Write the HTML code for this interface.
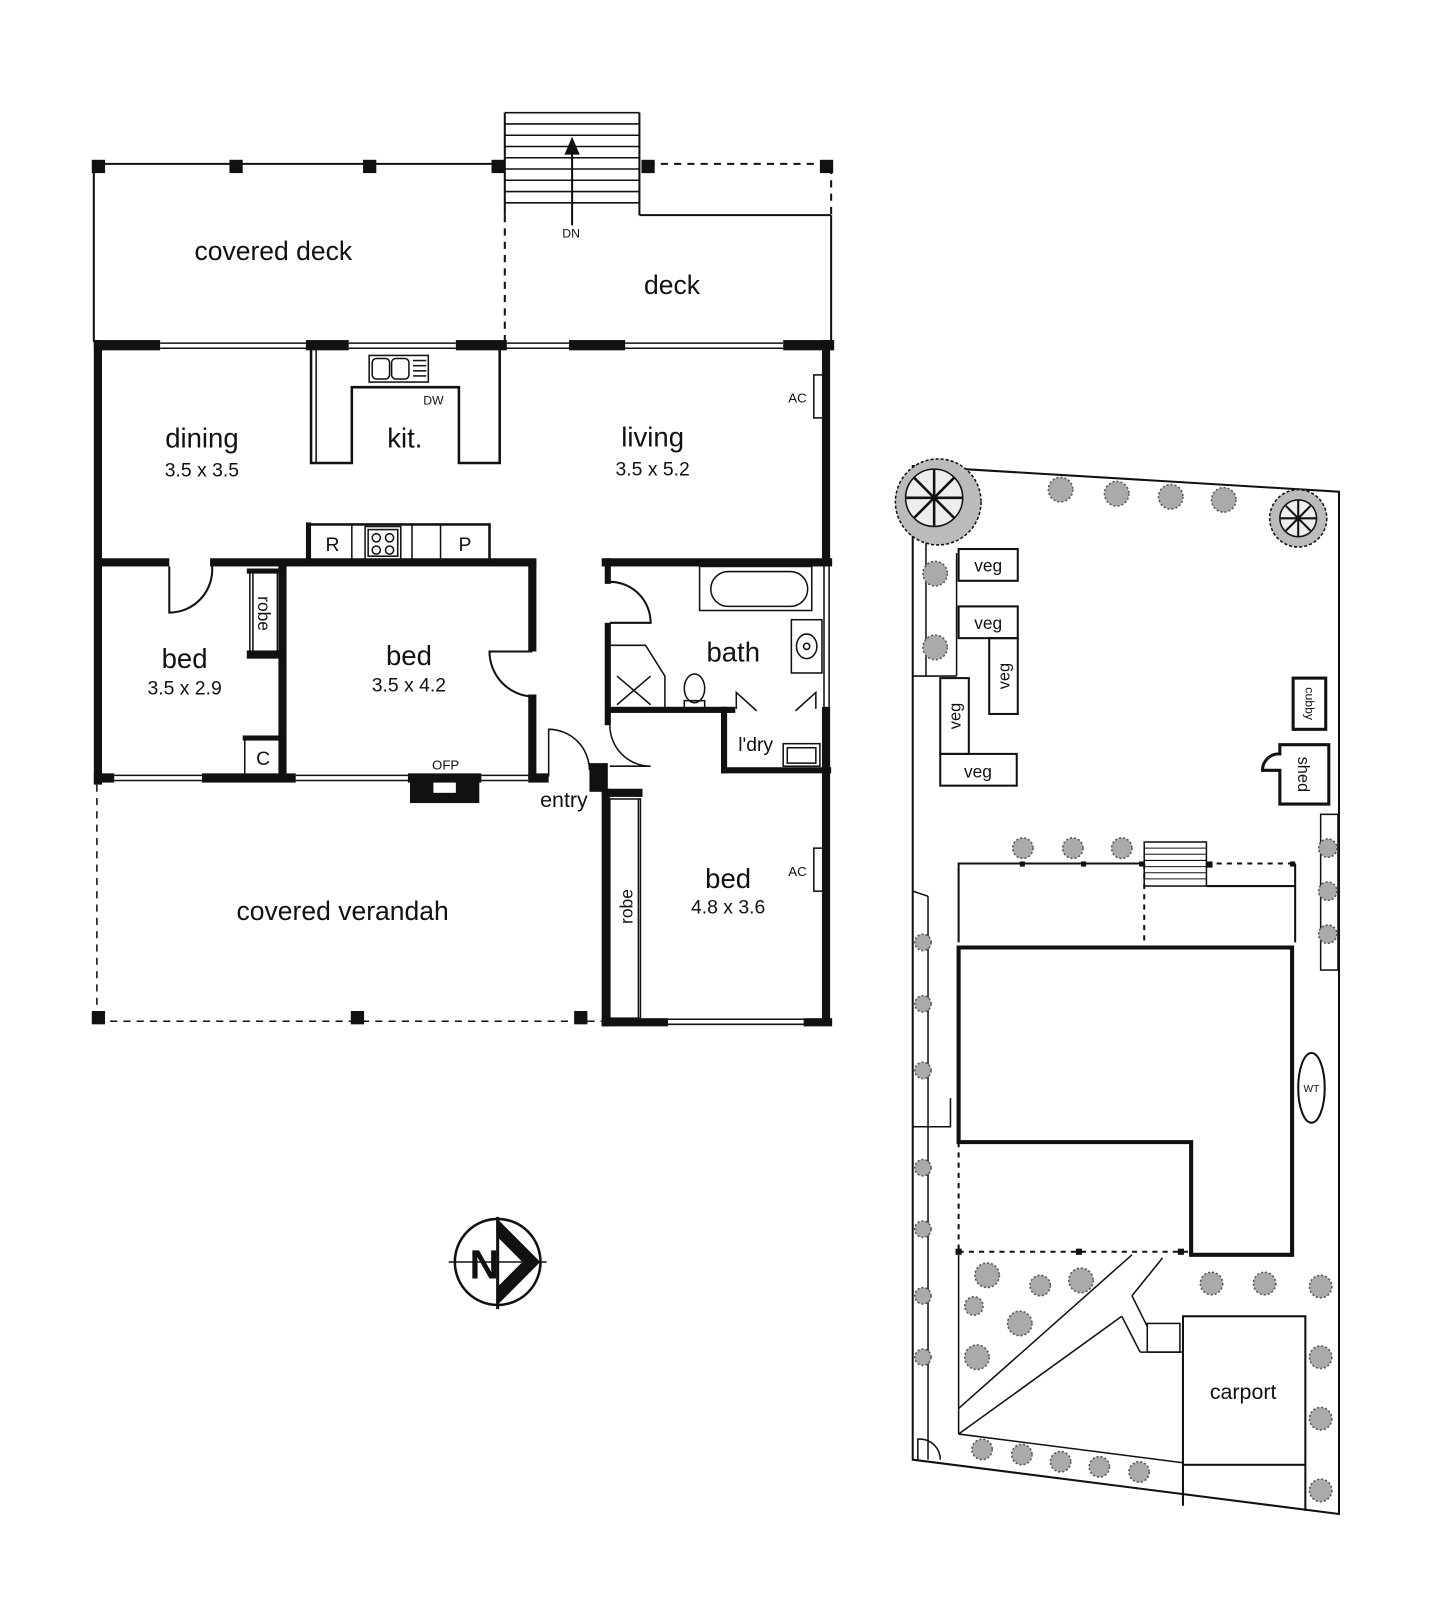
<!DOCTYPE html>
<html><head><meta charset="utf-8"><style>
html,body{margin:0;padding:0;background:#fff}
svg{display:block}
text{font-family:"Liberation Sans",Arial,sans-serif;fill:#111}
</style></head><body>
<svg width="1442" height="1600" viewBox="0 0 1414 1562" preserveAspectRatio="none" xmlns="http://www.w3.org/2000/svg">
<g stroke="#111" fill="none" stroke-width="2">
<!-- top decks -->
<line x1="92" y1="160" x2="495" y2="160"/>
<line x1="92" y1="160" x2="92" y2="334"/>
<line x1="815" y1="210" x2="815" y2="334"/>
<line x1="627" y1="210" x2="815" y2="210"/>
<line x1="635" y1="160" x2="815" y2="160" stroke-dasharray="7,6"/>
<line x1="815" y1="163" x2="815" y2="210" stroke-dasharray="7,6"/>
<line x1="495" y1="210" x2="495" y2="334" stroke-dasharray="7,6"/>
<!-- stairs -->
<line x1="495" y1="110" x2="495" y2="210"/><line x1="627" y1="110" x2="627" y2="210"/>
<g stroke-width="1.5">
<line x1="495" y1="110" x2="627" y2="110"/><line x1="495" y1="121" x2="627" y2="121"/><line x1="495" y1="132" x2="627" y2="132"/><line x1="495" y1="143" x2="627" y2="143"/><line x1="495" y1="154" x2="627" y2="154"/><line x1="495" y1="165" x2="627" y2="165"/><line x1="495" y1="176" x2="627" y2="176"/><line x1="495" y1="187" x2="627" y2="187"/><line x1="495" y1="198" x2="627" y2="198"/>
</g>
<line x1="561" y1="220" x2="561" y2="140"/>
<path d="M555 150 L561 136 L567 150 Z" fill="#111"/>
</g>
<g fill="#111">
<rect x="90" y="156" width="13" height="13"/><rect x="225" y="156" width="13" height="13"/><rect x="356" y="156" width="13" height="13"/><rect x="482" y="156" width="13" height="13"/><rect x="629" y="156" width="13" height="13"/><rect x="804" y="156" width="13" height="13"/>
<rect x="90" y="987" width="13" height="13"/><rect x="344" y="987" width="13" height="13"/><rect x="563" y="987" width="13" height="13"/>
</g>
<!-- house walls -->
<g fill="#111">
<rect x="92" y="332" width="65" height="10"/><rect x="300" y="332" width="42" height="10"/><rect x="447" y="332" width="50" height="10"/><rect x="558" y="332" width="55" height="10"/><rect x="768" y="332" width="50" height="10"/>
<rect x="92" y="332" width="8" height="434"/>
<rect x="806" y="332" width="8" height="220"/>
<rect x="96" y="545" width="70" height="8"/><rect x="206" y="545" width="320" height="8"/>
<rect x="273" y="548" width="8" height="212"/>
<rect x="518" y="548" width="8" height="88"/><rect x="518" y="678" width="8" height="82"/>
<rect x="92" y="755" width="20" height="9"/><rect x="198" y="755" width="92" height="9"/><rect x="400" y="755" width="72" height="9"/><rect x="518" y="755" width="20" height="9"/>
<rect x="402" y="760" width="68" height="24"/>
<rect x="590" y="545" width="226" height="8"/>
<rect x="593" y="545" width="6" height="25"/><rect x="593" y="608" width="6" height="100"/>
<rect x="596" y="690" width="125" height="6"/>
<rect x="707" y="690" width="6" height="65"/><rect x="707" y="749" width="108" height="6"/>
<rect x="806" y="690" width="8" height="310"/>
<rect x="590" y="770" width="8" height="232"/><rect x="590" y="770" width="40" height="8"/>
<rect x="578" y="745" width="18" height="28"/>
<rect x="590" y="994" width="65" height="8"/><rect x="788" y="994" width="28" height="8"/>
<rect x="242" y="555" width="35" height="5"/><rect x="242" y="635" width="35" height="8"/><rect x="238" y="718" width="40" height="5"/>
<rect x="300" y="510" width="5" height="40"/>
</g>
<rect x="425" y="764" width="22" height="10" fill="#fff"/>
<g stroke="#111" fill="none" stroke-width="1.5">
<!-- windows -->
<line x1="157" y1="335" x2="300" y2="335"/><line x1="157" y1="340" x2="300" y2="340"/>
<line x1="342" y1="335" x2="447" y2="335"/><line x1="342" y1="340" x2="447" y2="340"/>
<line x1="497" y1="335" x2="558" y2="335"/><line x1="497" y1="340" x2="558" y2="340"/>
<line x1="613" y1="335" x2="768" y2="335"/><line x1="613" y1="340" x2="768" y2="340"/>
<line x1="112" y1="757" x2="198" y2="757"/><line x1="112" y1="762" x2="198" y2="762"/>
<line x1="290" y1="757" x2="400" y2="757"/><line x1="290" y1="762" x2="400" y2="762"/>
<line x1="472" y1="757" x2="518" y2="757"/><line x1="472" y1="762" x2="518" y2="762"/>
<line x1="655" y1="995" x2="788" y2="995"/><line x1="655" y1="1000" x2="788" y2="1000"/>
<line x1="808" y1="552" x2="808" y2="690"/><line x1="813" y1="552" x2="813" y2="690"/>
<!-- kitchen -->
<polyline points="305,341 305,452 345,452 345,378 450,378 450,452 490,452 490,341" stroke-width="2.5"/>
<line x1="310" y1="341" x2="310" y2="452"/>
<rect x="362" y="347" width="58" height="26"/>
<rect x="365" y="350" width="17" height="20" rx="4"/><rect x="384" y="350" width="17" height="20" rx="4"/>
<line x1="405" y1="352" x2="418" y2="352"/><line x1="405" y1="357" x2="418" y2="357"/><line x1="405" y1="362" x2="418" y2="362"/><line x1="405" y1="367" x2="418" y2="367"/>
<rect x="303" y="512" width="177" height="36" stroke-width="2.5"/>
<line x1="345" y1="512" x2="345" y2="548"/><line x1="404" y1="512" x2="404" y2="548"/><line x1="432" y1="512" x2="432" y2="548"/>
<rect x="358" y="514" width="35" height="32"/><rect x="361" y="517" width="29" height="26"/>
<circle cx="369" cy="525" r="4"/><circle cx="382" cy="525" r="4"/><circle cx="369" cy="537" r="4"/><circle cx="382" cy="537" r="4"/>
<!-- doors -->
<path d="M166 553 L166 598 A42 42 0 0 0 208 553" stroke-width="2"/>
<path d="M522 636 L480 636 A44 44 0 0 0 522 680" stroke-width="2"/>
<path d="M598 568 A40 40 0 0 1 638 608 L598 608" stroke-width="2"/>
<path d="M598 708 A40 40 0 0 0 638 748 L598 748"/>
<path d="M538 758 L538 712 A40 40 0 0 1 578 752"/>
<rect x="245" y="558" width="27" height="80"/>
<line x1="248" y1="558" x2="248" y2="638"/>
<rect x="240" y="722" width="35" height="34"/>
<!-- bath -->
<rect x="686" y="553" width="110" height="43"/>
<rect x="697" y="558" width="95" height="34" rx="17"/>
<rect x="776" y="605" width="30" height="52"/>
<ellipse cx="791" cy="631" rx="10" ry="12"/><circle cx="791" cy="631" r="3"/>
<polyline points="597,630 633,630 652,660 652,695"/>
<line x1="605" y1="660" x2="638" y2="688"/><line x1="638" y1="660" x2="605" y2="688"/>
<ellipse cx="681" cy="672" rx="10" ry="14"/><rect x="671" y="684" width="20" height="7"/>
<path d="M722 692 L722 676 L742 694"/>
<path d="M800 692 L800 676 L780 694"/>
<rect x="768" y="726" width="36" height="22"/><rect x="772" y="730" width="28" height="15"/>
<!-- robe bed3 -->
<rect x="598" y="780" width="30" height="214"/>
<line x1="626" y1="780" x2="626" y2="994"/>
<rect x="798" y="828" width="10" height="42"/>
<rect x="798" y="366" width="10" height="42"/>
<!-- verandah -->
<line x1="95" y1="766" x2="95" y2="994" stroke-dasharray="7,6"/>
<line x1="95" y1="997" x2="590" y2="997" stroke-dasharray="7,6"/>
</g>
<!-- labels -->
<g text-anchor="middle">
<text x="268" y="254" font-size="26">covered deck</text>
<text x="659" y="287" font-size="26">deck</text>
<text x="560" y="232" font-size="12">DN</text>
<text x="198" y="437" font-size="27">dining</text><text x="198" y="465" font-size="19">3.5 x 3.5</text>
<text x="397" y="437" font-size="27">kit.</text>
<text x="425" y="395" font-size="12">DW</text>
<text x="640" y="436" font-size="27">living</text><text x="640" y="464" font-size="19">3.5 x 5.2</text>
<text x="782" y="393" font-size="13">AC</text>
<text x="326" y="538" font-size="19">R</text><text x="456" y="538" font-size="19">P</text>
<text x="181" y="652" font-size="27">bed</text><text x="181" y="678" font-size="19">3.5 x 2.9</text>
<text x="401" y="649" font-size="27">bed</text><text x="401" y="675" font-size="19">3.5 x 4.2</text>
<text x="258" y="747" font-size="19">C</text>
<text x="437" y="751" font-size="13">OFP</text>
<text x="719" y="646" font-size="27">bath</text>
<text x="741" y="733" font-size="19">l'dry</text>
<text x="553" y="788" font-size="21">entry</text>
<text x="714" y="867" font-size="27">bed</text><text x="714" y="892" font-size="19">4.8 x 3.6</text>
<text x="782" y="855" font-size="13">AC</text>
<text x="336" y="898" font-size="26">covered verandah</text>
<text x="1219" y="1366" font-size="21">carport</text>
</g>
<text x="253" y="599" font-size="17" transform="rotate(90 253 599)" text-anchor="middle">robe</text>
<text x="620" y="885" font-size="17" transform="rotate(-90 620 885)" text-anchor="middle">robe</text>
<!-- compass -->
<g stroke="#111" fill="none" stroke-width="2.5">
<circle cx="488" cy="1232" r="42"/>
<line x1="440" y1="1232" x2="536" y2="1232" stroke-width="1.5"/>
<line x1="488" y1="1188" x2="488" y2="1278" stroke-width="3"/>
<path d="M488 1192 L528 1232 L488 1272 L488 1258 L514 1232 L488 1206 Z" fill="#111"/>
</g>
<text x="475" y="1248" font-size="40" font-weight="bold" text-anchor="middle">N</text>
<!-- site plan -->
<g stroke="#111" fill="none" stroke-width="2">
<polygon points="895,455 1313,480 1313,1478 895,1425"/>
<line x1="908" y1="520" x2="908" y2="660" stroke-width="1.5"/>
<line x1="895" y1="660" x2="938" y2="660" stroke-width="1.5"/>
<line x1="938" y1="540" x2="938" y2="660" stroke-width="1.5"/>
<rect x="940" y="536" width="58" height="31"/>
<rect x="940" y="592" width="58" height="31"/>
<rect x="970" y="623" width="28" height="74"/>
<rect x="922" y="662" width="28" height="74"/>
<rect x="922" y="736" width="75" height="31"/>
<rect x="1268" y="662" width="32" height="50" stroke-width="3"/>
<path d="M1255 727 L1303 727 L1303 785 L1255 785 L1255 752 L1238 752 A16 16 0 0 1 1255 736 Z" stroke-width="3"/>
<rect x="1295" y="795" width="17" height="152" stroke-width="1.5"/>
<polyline points="940,920 940,843 1122,843"/>
<line x1="1183" y1="843" x2="1270" y2="843" stroke-dasharray="5,5"/>
<line x1="1270" y1="843" x2="1270" y2="920"/>
<line x1="1183" y1="865" x2="1270" y2="865"/>
<line x1="1122" y1="843" x2="1122" y2="920" stroke-dasharray="5,5"/>
<rect x="1122" y="822" width="61" height="43" stroke-width="1.5"/>
<g stroke-width="1"><line x1="1122" y1="828" x2="1183" y2="828"/><line x1="1122" y1="834" x2="1183" y2="834"/><line x1="1122" y1="840" x2="1183" y2="840"/><line x1="1122" y1="846" x2="1183" y2="846"/><line x1="1122" y1="852" x2="1183" y2="852"/><line x1="1122" y1="858" x2="1183" y2="858"/></g>
<polygon points="940,925 1267,925 1267,1225 1168,1225 1168,1115 940,1115" stroke-width="4"/>
<line x1="940" y1="1115" x2="940" y2="1222" stroke-dasharray="5,5"/>
<line x1="940" y1="1222" x2="1168" y2="1222" stroke-dasharray="5,5"/>
<polyline points="895,1100 932,1100 932,1072 A18 18 0 0 0 912 1090" stroke-width="1.5"/>
<line x1="910" y1="875" x2="910" y2="1425" stroke-width="1.5"/>
<line x1="910" y1="875" x2="895" y2="870" stroke-width="1.5"/>
<path d="M900 1425 L900 1405 A20 20 0 0 1 922 1425" stroke-width="1.5"/>
<line x1="940" y1="1225" x2="940" y2="1400" stroke-width="1.5"/>
<line x1="940" y1="1400" x2="1100" y2="1285" stroke-width="1.5"/>
<line x1="940" y1="1375" x2="1110" y2="1225" stroke-width="1.5"/>
<line x1="1100" y1="1285" x2="1118" y2="1320" stroke-width="1.5"/>
<line x1="1118" y1="1320" x2="1160" y2="1320" stroke-width="1.5"/>
<line x1="1140" y1="1228" x2="1110" y2="1265" stroke-width="1.5"/>
<line x1="1110" y1="1265" x2="1125" y2="1295" stroke-width="1.5"/>
<rect x="1125" y="1292" width="32" height="28" stroke-width="1.5"/>
<rect x="1160" y="1285" width="120" height="145"/>
<line x1="1160" y1="1430" x2="1160" y2="1470"/><line x1="1280" y1="1430" x2="1280" y2="1475"/>
<line x1="940" y1="1400" x2="1160" y2="1428" stroke-width="1.5"/>
<ellipse cx="1286" cy="1062" rx="13" ry="34"/>
</g>
<g fill="#111">
<rect x="1000" y="841" width="5" height="5"/><rect x="1060" y="841" width="5" height="5"/><rect x="1117" y="841" width="5" height="5"/><rect x="1183" y="841" width="6" height="6"/><rect x="1265" y="841" width="5" height="5"/>
<rect x="937" y="1219" width="6" height="6"/><rect x="1055" y="1219" width="6" height="6"/><rect x="1155" y="1219" width="6" height="6"/>
</g>
<g text-anchor="middle">
<text x="969" y="558" font-size="17">veg</text>
<text x="969" y="614" font-size="17">veg</text>
<text x="959" y="759" font-size="17">veg</text>
<text x="1286" y="1066" font-size="10">WT</text>
</g>
<text x="984" y="660" font-size="16" text-anchor="middle" transform="rotate(-90 984 660)" dy="6">veg</text>
<text x="936" y="699" font-size="16" text-anchor="middle" transform="rotate(-90 936 699)" dy="6">veg</text>
<text x="1284" y="687" font-size="12" text-anchor="middle" transform="rotate(90 1284 687)" dy="4">cubby</text>
<text x="1279" y="756" font-size="16" text-anchor="middle" transform="rotate(90 1279 756)" dy="6">shed</text>
<!-- trees -->
<g stroke="#111" stroke-width="1.5">
<circle cx="920" cy="490" r="42" fill="#bbb" stroke-dasharray="3,2"/>
<circle cx="916" cy="486" r="28" fill="#eee"/>
<path d="M916 458 L916 514 M888 486 L944 486 M896 466 L936 506 M936 466 L896 506" stroke-width="2.5"/>
<circle cx="1273" cy="506" r="28" fill="#bbb" stroke-dasharray="3,2"/>
<circle cx="1273" cy="506" r="18" fill="#eee"/>
<path d="M1273 488 L1273 524 M1255 506 L1291 506 M1261 494 L1285 518 M1285 494 L1261 518" stroke-width="2"/>
</g>
<g fill="#aaa" stroke="#555" stroke-width="1.5" stroke-dasharray="2,2">
<circle cx="1040" cy="478" r="12"/><circle cx="1095" cy="482" r="12"/><circle cx="1148" cy="485" r="12"/><circle cx="1200" cy="488" r="12"/>
<circle cx="917" cy="560" r="12"/><circle cx="917" cy="632" r="12"/>
<circle cx="1302" cy="828" r="9"/><circle cx="1302" cy="870" r="9"/><circle cx="1302" cy="912" r="9"/>
<circle cx="1003" cy="828" r="10"/><circle cx="1052" cy="828" r="10"/><circle cx="1100" cy="828" r="10"/>
<circle cx="905" cy="920" r="8"/><circle cx="905" cy="980" r="8"/><circle cx="905" cy="1045" r="8"/><circle cx="905" cy="1140" r="8"/><circle cx="905" cy="1200" r="8"/><circle cx="905" cy="1265" r="8"/><circle cx="905" cy="1325" r="8"/>
<circle cx="968" cy="1245" r="12"/><circle cx="1020" cy="1255" r="10"/><circle cx="1060" cy="1250" r="12"/><circle cx="955" cy="1275" r="9"/><circle cx="1000" cy="1292" r="12"/><circle cx="958" cy="1325" r="12"/>
<circle cx="1188" cy="1253" r="11"/><circle cx="1240" cy="1253" r="11"/><circle cx="1295" cy="1256" r="11"/><circle cx="1295" cy="1325" r="11"/><circle cx="1295" cy="1385" r="11"/><circle cx="1295" cy="1455" r="11"/>
<circle cx="963" cy="1415" r="10"/><circle cx="1002" cy="1420" r="10"/><circle cx="1040" cy="1427" r="10"/><circle cx="1078" cy="1432" r="10"/><circle cx="1117" cy="1437" r="10"/>
</g>
</svg>
</body></html>
